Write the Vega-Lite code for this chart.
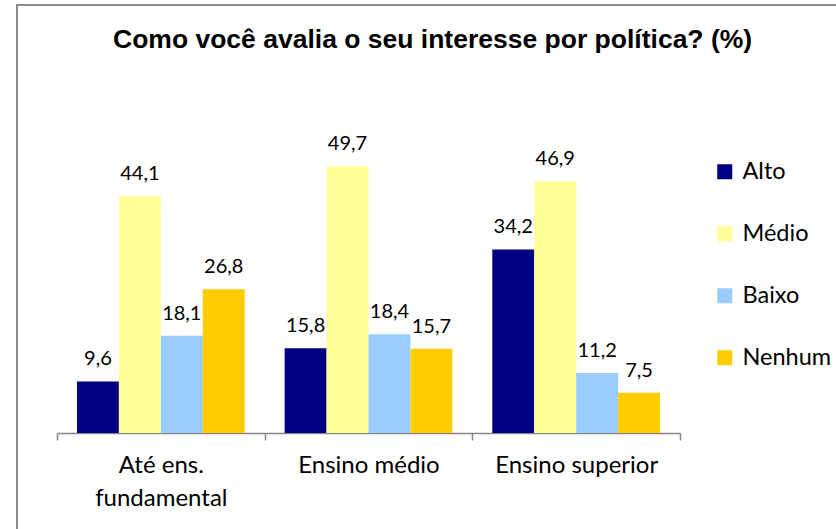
{
  "$schema": "https://vega.github.io/schema/vega-lite/v6.json",
  "width": 849,
  "height": 554,
  "autosize": {"type": "none"},
  "padding": {"left": 17, "top": 5, "right": -30, "bottom": -30},
  "background": "white",
  "title": {
    "text": "Como você avalia o seu interesse por política? (%)",
    "font": "Liberation Sans",
    "fontSize": 26.5,
    "fontWeight": "bold",
    "color": "black",
    "anchor": "start",
    "baseline": "top",
    "offset": -48,
    "dx": 96
  },
  "data": {
    "values": [
      {"escolaridade": "Até ens. fundamental", "interesse": "Alto", "valor": 9.6},
      {"escolaridade": "Até ens. fundamental", "interesse": "Médio", "valor": 44.1},
      {"escolaridade": "Até ens. fundamental", "interesse": "Baixo", "valor": 18.1},
      {"escolaridade": "Até ens. fundamental", "interesse": "Nenhum", "valor": 26.8},
      {"escolaridade": "Ensino médio", "interesse": "Alto", "valor": 15.8},
      {"escolaridade": "Ensino médio", "interesse": "Médio", "valor": 49.7},
      {"escolaridade": "Ensino médio", "interesse": "Baixo", "valor": 18.4},
      {"escolaridade": "Ensino médio", "interesse": "Nenhum", "valor": 15.7},
      {"escolaridade": "Ensino superior", "interesse": "Alto", "valor": 34.2},
      {"escolaridade": "Ensino superior", "interesse": "Médio", "valor": 46.9},
      {"escolaridade": "Ensino superior", "interesse": "Baixo", "valor": 11.2},
      {"escolaridade": "Ensino superior", "interesse": "Nenhum", "valor": 7.5}
    ]
  },
  "encoding": {
    "x": {
      "field": "escolaridade",
      "type": "nominal",
      "sort": ["Até ens. fundamental", "Ensino médio", "Ensino superior"],
      "scale": {"range": [40, 663], "paddingInner": 0, "paddingOuter": 0},
      "axis": {
        "title": null,
        "orient": "bottom",
        "offset": -126,
        "labelAngle": 0,
        "domainColor": "#868686",
        "domainWidth": 1.5,
        "tickColor": "#868686",
        "tickWidth": 1.5,
        "tickSize": 7,
        "tickBand": "extent",
        "labelFont": "Lato",
        "labelFontSize": 24,
        "labelColor": "black",
        "labelPadding": 13,
        "labelLineHeight": 33,
        "labelLimit": 300,
        "labelExpr": "datum.label == 'Até ens. fundamental' ? ['Até ens.', 'fundamental'] : datum.label"
      }
    },
    "xOffset": {
      "field": "interesse",
      "type": "nominal",
      "sort": ["Alto", "Médio", "Baixo", "Nenhum"],
      "scale": {"paddingInner": 0, "paddingOuter": 0.476}
    },
    "y": {
      "field": "valor",
      "type": "quantitative",
      "scale": {"domain": [0, 60], "range": [428, 106]},
      "axis": null
    }
  },
  "layer": [
    {
      "mark": {"type": "bar"},
      "encoding": {
        "color": {
          "field": "interesse",
          "type": "nominal",
          "sort": ["Alto", "Médio", "Baixo", "Nenhum"],
          "scale": {
            "domain": ["Alto", "Médio", "Baixo", "Nenhum"],
            "range": ["#000080", "#FFFF99", "#99CCFF", "#FFCC00"]
          },
          "legend": {
            "orient": "none",
            "legendX": 696,
            "legendY": 155,
            "title": null,
            "padding": 0,
            "symbolType": "square",
            "symbolSize": 225,
            "symbolStrokeWidth": 0,
            "symbolOpacity": 1,
            "labelFont": "Lato",
            "labelFontSize": 23.5,
            "labelColor": "black",
            "labelOffset": 6,
            "rowPadding": 37
          }
        }
      }
    },
    {
      "mark": {"type": "text", "baseline": "bottom", "dy": -12, "font": "Lato", "fontSize": 20, "color": "black"},
      "encoding": {
        "text": {"field": "valor", "type": "quantitative", "format": ".1f"}
      }
    }
  ],
  "config": {
    "view": {"stroke": "#8c8c8c", "strokeWidth": 2},
    "locale": {
      "number": {"decimal": ",", "thousands": ".", "grouping": [3], "currency": ["R$", ""]}
    }
  }
}
